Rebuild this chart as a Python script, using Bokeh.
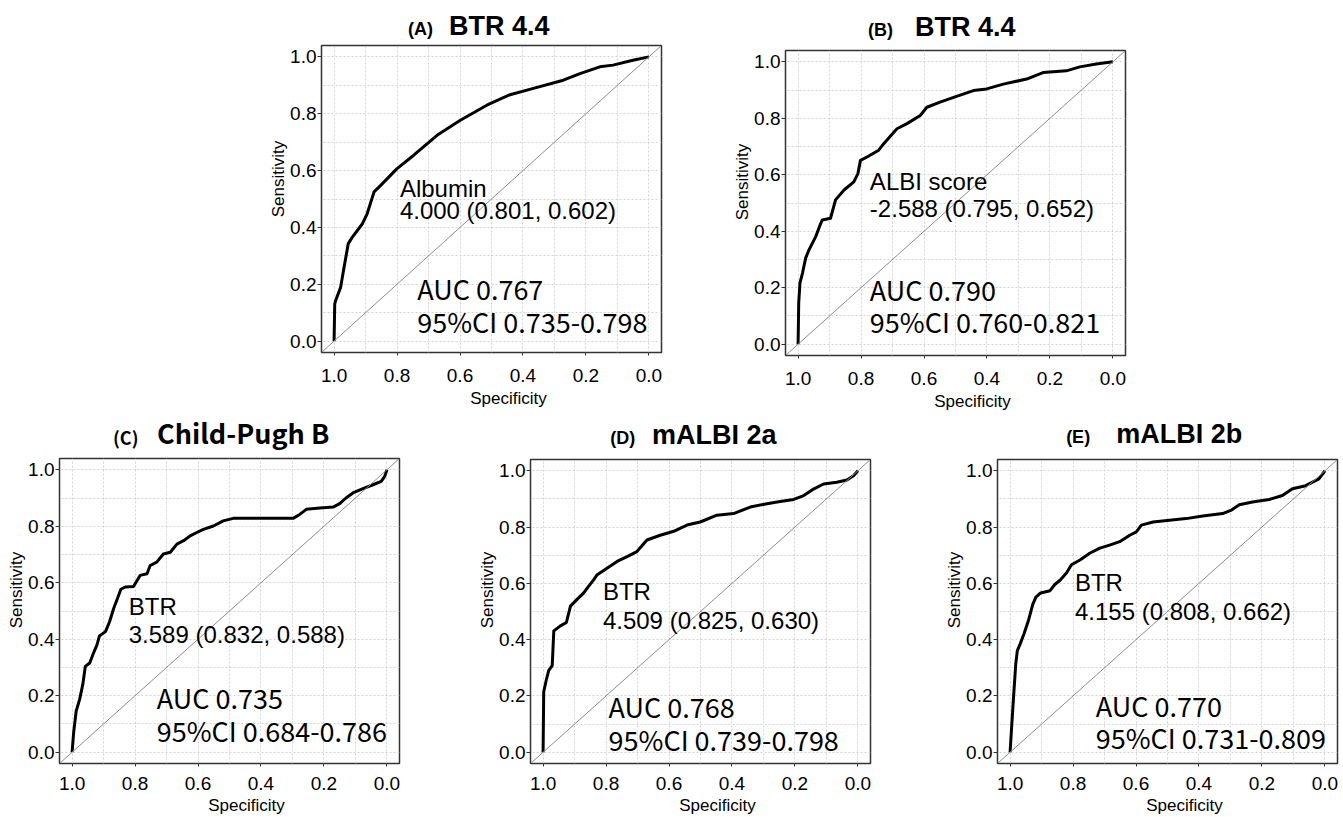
from bokeh.plotting import figure
from bokeh.models import Range1d, FixedTicker, Label, Slope, PrintfTickFormatter, Title
from bokeh.layouts import row, column
from bokeh.embed import file_html
from bokeh.resources import INLINE

# ---------------- data ----------------
axis_ticks = [1.0, 0.8, 0.6, 0.4, 0.2, 0.0]
grid_ticks = [0.0, 0.1, 0.2, 0.3, 0.4, 0.5, 0.6, 0.7, 0.8, 0.9, 1.0]

panel_letters = ["(A)", "(B)", "(C)", "(D)", "(E)"]
panel_titles = ["BTR 4.4", "BTR 4.4", "Child-Pugh B", "mALBI 2a", "mALBI 2b"]
marker_names = ["Albumin", "ALBI score", "BTR", "BTR", "BTR"]
cutoff_texts = ["4.000 (0.801, 0.602)", "-2.588 (0.795, 0.652)", "3.589 (0.832, 0.588)",
                "4.509 (0.825, 0.630)", "4.155 (0.808, 0.662)"]
auc_texts = ["AUC 0.767", "AUC 0.790", "AUC 0.735", "AUC 0.768", "AUC 0.770"]
ci_texts = ["95%CI 0.735-0.798", "95%CI 0.760-0.821", "95%CI 0.684-0.786",
            "95%CI 0.739-0.798", "95%CI 0.731-0.809"]
x_label = "Specificity"
y_label = "Sensitivity"

spec_a = [1.0, 0.998, 0.995, 0.979, 0.970, 0.955, 0.942, 0.910, 0.895, 0.873, 0.852, 0.800,
          0.747, 0.673, 0.599, 0.515, 0.441, 0.367, 0.272, 0.219, 0.156, 0.114, 0.051, 0.0]
sens_a = [0.0, 0.130, 0.143, 0.190, 0.249, 0.343, 0.366, 0.413, 0.448, 0.525, 0.548, 0.607,
          0.654, 0.724, 0.777, 0.830, 0.867, 0.889, 0.918, 0.941, 0.965, 0.971, 0.988, 1.0]

spec_b = [1.0, 0.998, 0.994, 0.986, 0.976, 0.965, 0.944, 0.928, 0.923, 0.897, 0.881, 0.854,
          0.823, 0.810, 0.802, 0.781, 0.744, 0.728, 0.686, 0.654, 0.612, 0.591, 0.549, 0.506,
          0.443, 0.401, 0.348, 0.274, 0.222, 0.148, 0.105, 0.053, 0.0]
sens_b = [0.0, 0.147, 0.217, 0.252, 0.305, 0.335, 0.381, 0.428, 0.440, 0.446, 0.511, 0.546,
          0.575, 0.604, 0.651, 0.663, 0.687, 0.710, 0.763, 0.781, 0.810, 0.839, 0.857, 0.874,
          0.898, 0.904, 0.921, 0.939, 0.962, 0.968, 0.982, 0.992, 1.0]

spec_c = [1.0, 0.995, 0.987, 0.976, 0.966, 0.958, 0.944, 0.932, 0.921, 0.913, 0.894, 0.881,
          0.868, 0.858, 0.845, 0.831, 0.805, 0.784, 0.762, 0.752, 0.731, 0.710, 0.688, 0.667,
          0.646, 0.625, 0.604, 0.583, 0.551, 0.520, 0.488, 0.298, 0.277, 0.256, 0.213, 0.171,
          0.150, 0.129, 0.108, 0.076, 0.044, 0.018, 0.007, 0.0]
sens_c = [0.0, 0.070, 0.146, 0.187, 0.240, 0.304, 0.316, 0.351, 0.380, 0.412, 0.427, 0.462,
          0.509, 0.538, 0.577, 0.585, 0.587, 0.626, 0.632, 0.661, 0.673, 0.702, 0.708, 0.737,
          0.749, 0.766, 0.778, 0.789, 0.801, 0.819, 0.828, 0.828, 0.842, 0.860, 0.865, 0.868,
          0.880, 0.901, 0.918, 0.933, 0.947, 0.959, 0.977, 1.0]

spec_d = [1.0, 0.998, 0.989, 0.982, 0.971, 0.966, 0.945, 0.926, 0.913, 0.892, 0.871, 0.855,
          0.839, 0.828, 0.797, 0.765, 0.733, 0.702, 0.670, 0.628, 0.585, 0.543, 0.501, 0.448,
          0.395, 0.342, 0.289, 0.247, 0.204, 0.172, 0.141, 0.109, 0.067, 0.035, 0.014, 0.0]
sens_d = [0.0, 0.215, 0.261, 0.291, 0.308, 0.431, 0.449, 0.461, 0.519, 0.543, 0.566, 0.590,
          0.613, 0.631, 0.654, 0.678, 0.695, 0.713, 0.754, 0.771, 0.785, 0.807, 0.818, 0.842,
          0.848, 0.871, 0.883, 0.891, 0.898, 0.912, 0.935, 0.953, 0.959, 0.967, 0.982, 1.0]

spec_e = [1.0, 0.995, 0.989, 0.982, 0.977, 0.968, 0.956, 0.942, 0.928, 0.918, 0.903, 0.873,
          0.858, 0.842, 0.821, 0.805, 0.778, 0.747, 0.715, 0.684, 0.652, 0.620, 0.599, 0.583,
          0.546, 0.494, 0.441, 0.388, 0.325, 0.299, 0.272, 0.230, 0.177, 0.135, 0.103, 0.061,
          0.019, 0.0]
sens_e = [0.0, 0.091, 0.197, 0.314, 0.361, 0.385, 0.420, 0.467, 0.525, 0.551, 0.566, 0.574,
          0.596, 0.610, 0.637, 0.666, 0.683, 0.707, 0.725, 0.736, 0.748, 0.771, 0.783, 0.807,
          0.818, 0.824, 0.830, 0.839, 0.848, 0.859, 0.879, 0.889, 0.898, 0.912, 0.936, 0.947,
          0.971, 1.0]

specs = [spec_a, spec_b, spec_c, spec_d, spec_e]
senss = [sens_a, sens_b, sens_c, sens_d, sens_e]

# ---------------- layout / style (not data) ----------------
FW, FH = 340, 307
PX_PER_UNIT = FH / 1.08
# (left, top, right, bottom) borders for each panel, in pixels
borders = [(321, 45, 20, 61), (104, 50, 30, 56),
           (59, 45, 30, 51), (101, 46, 30, 50), (97, 46, 3, 50)]
# title positions: x of letter, x of title (data units), baseline height in title strip (px)
title_pos = [(0.765, 0.635, 8), (0.778, 0.629, 12), (0.870, 0.730, 12),
             (0.787, 0.654, 13), (0.822, 0.663, 14)]
# text baselines (data units)
marker_pos = [(0.791, 0.509, 0.431), (0.772, 0.548, 0.450), (0.820, 0.488, 0.386),
              (0.810, 0.543, 0.440), (0.794, 0.572, 0.470)]
auc_pos = [(0.736, 0.143, 0.026), (0.772, 0.153, 0.038), (0.731, 0.152, 0.037),
           (0.792, 0.121, 0.004), (0.728, 0.126, 0.012)]

SANS = "Liberation Sans"
JP = "Noto Sans CJK JP"
# distance from baseline to the middle of the text box, in em
MID = {SANS: 0.3465, JP: 0.436}
AXIS_TITLE_PX = 17
AXIS_TITLE_HALF = 4.501 * AXIS_TITLE_PX / 2   # half length of the axis title text
# axis titles sit off-centre in the original: x title 17 px right, y title 20 px up
X_TITLE_OFFSET = FW / 2 + 17 - AXIS_TITLE_HALF
Y_TITLE_OFFSET = FH / 2 + 20 - AXIS_TITLE_HALF


def mid_px(font, size):
    return MID[font] * size


def make_panel(i, top_row):
    bl, bt, br, bb = borders[i]
    xr = Range1d(1.04, -0.04)

    # title strip above the plot frame
    th = bt - 2
    t = figure(width=bl + FW + br, height=th, x_range=xr, y_range=Range1d(0, th),
               x_axis_type=None, y_axis_type=None, min_border_left=bl,
               min_border_right=br, min_border_top=0, min_border_bottom=0,
               output_backend="svg", toolbar_location=None, tools="", title=None)
    t.outline_line_color = None
    t.background_fill_color = "white"
    t.border_fill_color = "white"
    tfont = JP if i == 2 else SANS
    lx, tx, tb = title_pos[i]
    t.add_layout(Label(x=lx, y=tb + mid_px(tfont, 18), text=panel_letters[i], text_font=tfont,
                       text_font_style="bold", text_font_size="18px",
                       text_baseline="middle", text_color="black"))
    t.add_layout(Label(x=tx, y=tb + mid_px(tfont, 27), text=panel_titles[i], text_font=tfont,
                       text_font_style="bold", text_font_size="27px",
                       text_baseline="middle", text_color="black"))

    p = figure(width=bl + FW + br, height=2 + FH + bb,
               x_range=xr, y_range=Range1d(-0.04, 1.04),
               min_border_left=bl, min_border_top=2, min_border_right=br,
               min_border_bottom=bb, output_backend="svg", toolbar_location=None,
               tools="", title=None)
    p.background_fill_color = "white"
    p.border_fill_color = "white"
    p.outline_line_color = "#333333"
    p.outline_line_width = 1.5

    for g in (p.xgrid[0], p.ygrid[0]):
        g.ticker = FixedTicker(ticks=grid_ticks)
        g.grid_line_color = "#d2d2d2"
        g.grid_line_dash = "2 2"
        g.grid_line_width = 1

    xa = p.xaxis[0]
    xa.ticker = FixedTicker(ticks=axis_ticks)
    xa.formatter = PrintfTickFormatter(format="%.1f")
    xa.axis_line_color = None
    xa.major_tick_line_color = "#333333"
    xa.major_tick_in = 0
    xa.major_tick_out = 3
    xa.minor_tick_line_color = None
    xa.major_label_text_font = SANS
    xa.major_label_text_font_size = "19px"
    xa.major_label_text_color = "black"
    xa.major_label_standoff = 13 if top_row else 10

    ya = p.yaxis[0]
    ya.ticker = FixedTicker(ticks=grid_ticks[::2])
    ya.formatter = PrintfTickFormatter(format="%.1f")
    ya.axis_line_color = None
    ya.major_tick_line_color = "#333333"
    ya.major_tick_in = 0
    ya.major_tick_out = 4
    ya.minor_tick_line_color = None
    ya.major_label_text_font = SANS
    ya.major_label_text_font_size = "19px"
    ya.major_label_text_color = "black"
    ya.major_label_standoff = 1

    # axis titles (offset from centre as in the original figure)
    p.add_layout(Title(text=y_label, align="left", offset=Y_TITLE_OFFSET, standoff=0,
                       text_font=SANS, text_font_size=f"{AXIS_TITLE_PX}px",
                       text_font_style="normal", text_color="black"), "left")
    p.add_layout(Title(text=x_label, align="left", offset=X_TITLE_OFFSET,
                       standoff=5 if top_row else 3,
                       text_font=SANS, text_font_size=f"{AXIS_TITLE_PX}px",
                       text_font_style="normal", text_color="black"), "below")

    p.add_layout(Slope(gradient=-1, y_intercept=1, line_color="#8c8c8c", line_width=1))
    p.line(specs[i], senss[i], line_color="black", line_width=3, line_join="round")

    mx, my1, my2 = marker_pos[i]
    off = mid_px(SANS, 24) / PX_PER_UNIT
    p.add_layout(Label(x=mx, y=my1 + off, text=marker_names[i], text_font=SANS,
                       text_font_size="24px", text_baseline="middle", text_color="black"))
    p.add_layout(Label(x=mx, y=my2 + off, text=cutoff_texts[i], text_font=SANS,
                       text_font_size="24px", text_baseline="middle", text_color="black"))

    ax, ay1, ay2 = auc_pos[i]
    off = mid_px(JP, 27) / PX_PER_UNIT
    p.add_layout(Label(x=ax, y=ay1 + off, text=auc_texts[i], text_font=JP,
                       text_font_size="27px", text_baseline="middle", text_color="black"))
    p.add_layout(Label(x=ax, y=ay2 + off, text=ci_texts[i], text_font=JP,
                       text_font_size="27px", text_baseline="middle", text_color="black"))
    return column(t, p)


panels = [make_panel(i, i < 2) for i in range(5)]
layout = column(row(panels[0], panels[1]), row(panels[2], panels[3], panels[4]))

with open("out.html", "w") as f:
    f.write(file_html(layout, INLINE))
